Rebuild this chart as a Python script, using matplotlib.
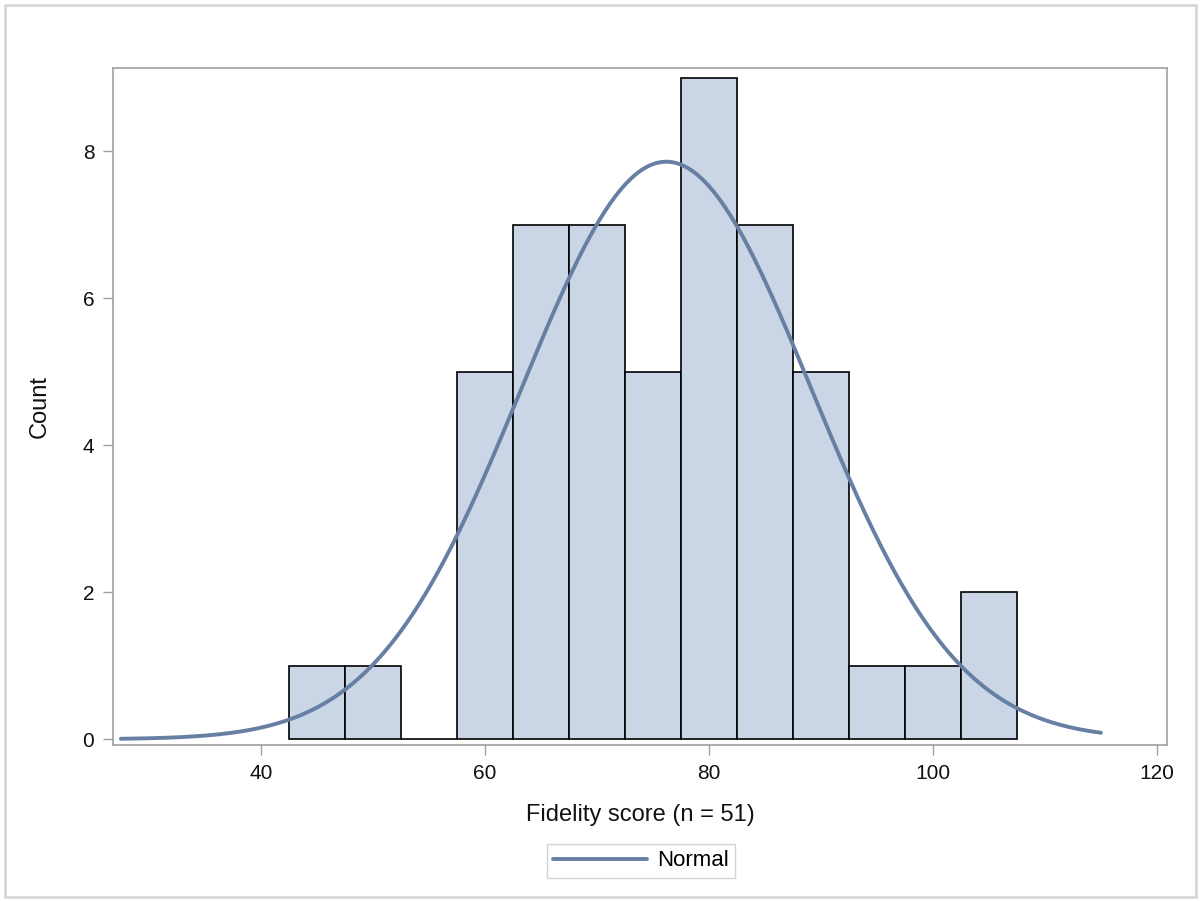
import numpy as np
import matplotlib
matplotlib.use("Agg")
import matplotlib.pyplot as plt
from matplotlib.patches import Rectangle

plt.rcParams['font.family'] = ['Liberation Sans', 'DejaVu Sans']

# histogram data (bin midpoints, width 5)
bin_mids = [45, 50, 55, 60, 65, 70, 75, 80, 85, 90, 95, 100, 105]
counts = [1, 1, 0, 5, 7, 7, 5, 9, 7, 5, 1, 1, 2]
bin_width = 5
n_obs = 51

# fitted normal
mu = 76.2
sigma = 12.95
curve_lo, curve_hi = 27.5, 115.0

xticks = [40, 60, 80, 100, 120]
yticks = [0, 2, 4, 6, 8]

fill_col = '#CAD5E5'
line_col = '#667FA2'
frame_col = '#A0A0A0'

W, H = 1200, 901
fig = plt.figure(figsize=(W / 100, H / 100), dpi=100, facecolor='white')

# outer light border
fig.patches.append(Rectangle((5 / W, 4 / H), 1191 / W, 892 / H, transform=fig.transFigure,
                             fill=False, edgecolor='#D4D4D4', linewidth=1.8))

ax = fig.add_axes([113 / W, (H - 745) / H, (1167 - 113) / W, (745 - 68) / H])

ax.bar(bin_mids, counts, width=bin_width, color=fill_col, edgecolor='black', linewidth=1.2, zorder=2)

xs = np.linspace(curve_lo, curve_hi, 400)
ys = n_obs * bin_width * np.exp(-0.5 * ((xs - mu) / sigma) ** 2) / (sigma * np.sqrt(2 * np.pi))
ax.plot(xs, ys, color=line_col, linewidth=2.8, label='Normal', zorder=3, solid_capstyle='round')

ax.set_xlim(26.8, 120.9)
ax.set_ylim(-0.078, 9.13)
ax.set_xticks(xticks)
ax.set_yticks(yticks)

for s in ax.spines.values():
    s.set_color(frame_col)
    s.set_linewidth(1.2)
ax.tick_params(axis='both', direction='out', length=7.5, width=1.0, color=frame_col,
               labelsize=15, labelcolor='#111111', pad=6)

ax.set_xlabel('Fidelity score (n = 51)', fontsize=17, color='#111111', labelpad=15)
ax.set_ylabel('Count', fontsize=17, color='#111111', labelpad=23)

leg = ax.legend(loc='center', bbox_to_anchor=(641 / W, (H - 861) / H),
                bbox_transform=fig.transFigure, fontsize=16, frameon=True, fancybox=False,
                handlelength=4.2, handletextpad=0.45, borderpad=0.3, borderaxespad=0)
leg.get_frame().set_edgecolor('#C8C8C8')
leg.get_frame().set_linewidth(1.0)

fig.savefig('out.png', dpi=100, facecolor='white')
